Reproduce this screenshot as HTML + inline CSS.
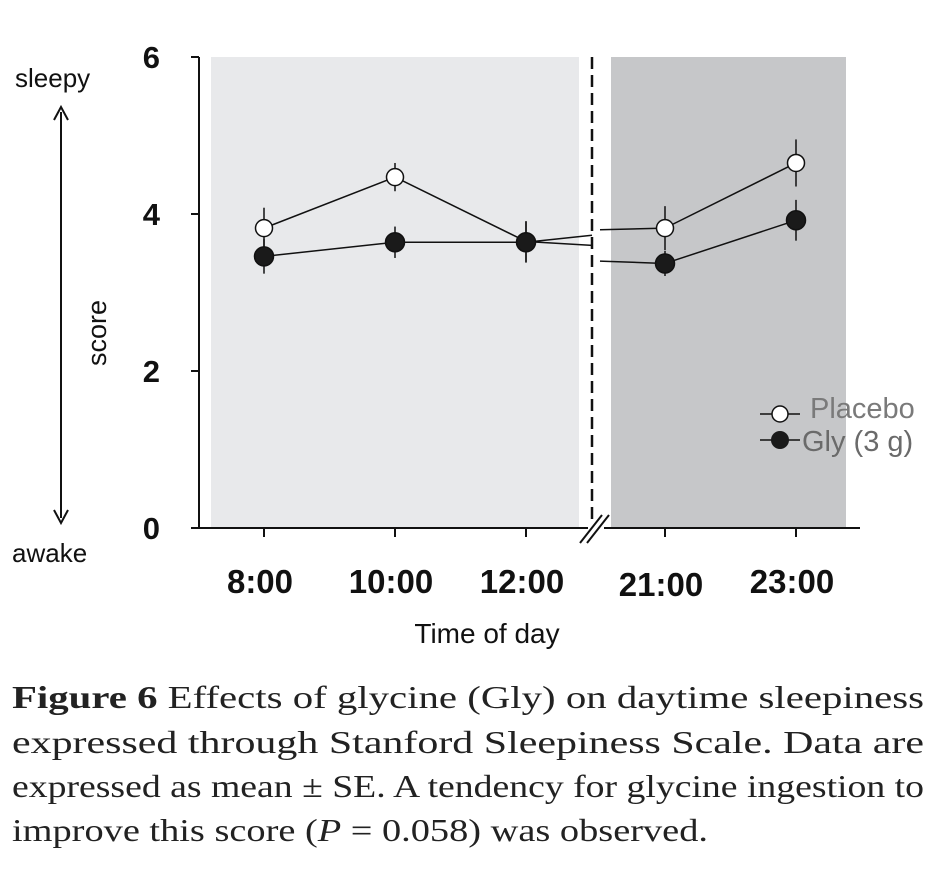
<!DOCTYPE html>
<html><head><meta charset="utf-8"><style>
html,body{margin:0;padding:0;background:#fff;}
svg{display:block;}
</style></head><body>
<svg id="chart" width="950" height="882" viewBox="0 0 950 882" xmlns="http://www.w3.org/2000/svg" font-family="Liberation Sans, Arial, sans-serif">
  <rect x="211" y="57" width="368" height="471" fill="#e8e9eb"/>
  <rect x="611" y="57" width="235" height="471" fill="#c6c7c9"/>
  <line x1="592" y1="57" x2="592" y2="528" stroke="#111" stroke-width="2.5" stroke-dasharray="12,6"/>
  <line x1="199" y1="57" x2="199" y2="529" stroke="#111" stroke-width="2"/>
  <line x1="198" y1="528" x2="860" y2="528" stroke="#111" stroke-width="2"/>
  <rect x="588" y="520" width="16" height="16" fill="#fff"/>
  <line x1="580" y1="543" x2="602" y2="515" stroke="#111" stroke-width="2"/>
  <line x1="587" y1="543" x2="609" y2="515" stroke="#111" stroke-width="2"/>
  <g id="yticks"></g>
  <g id="xticks"></g>
  <g id="series"></g>
  <text x="15" y="87" font-size="26" fill="#111">sleepy</text>
  <text x="12" y="562" font-size="26" fill="#111">awake</text>
  <line x1="61" y1="112" x2="61" y2="518" stroke="#111" stroke-width="2"/>
  <path d="M54,120 L61,107 L68,120" fill="none" stroke="#111" stroke-width="2"/>
  <path d="M54,510 L61,523 L68,510" fill="none" stroke="#111" stroke-width="2"/>
  <text transform="translate(106,333) rotate(-90)" text-anchor="middle" font-size="27" fill="#111">score</text>
  <text x="487" y="643" text-anchor="middle" font-size="28" fill="#111">Time of day</text>
  <g>
    <line x1="760" y1="414" x2="800" y2="414" stroke="#111" stroke-width="1.5"/>
    <circle cx="780" cy="414" r="8" fill="#fff" stroke="#111" stroke-width="1.5"/>
    <text x="810" y="418" font-size="29" fill="#7a7a7a">Placebo</text>
    <line x1="760" y1="440" x2="800" y2="440" stroke="#111" stroke-width="1.5"/>
    <circle cx="780" cy="440" r="9" fill="#1a1a1a"/>
    <text x="802" y="451" font-size="29" fill="#6a6a6a">Gly (3 g)</text>
  </g>
  <g font-family="Liberation Serif, serif" font-size="32" fill="#222">
    <text x="12" y="708" textLength="912" lengthAdjust="spacingAndGlyphs"><tspan font-weight="bold">Figure 6</tspan> Effects of glycine (Gly) on daytime sleepiness</text>
    <text x="12" y="753" textLength="912" lengthAdjust="spacingAndGlyphs">expressed through Stanford Sleepiness Scale. Data are</text>
    <text x="12" y="797" textLength="912" lengthAdjust="spacingAndGlyphs">expressed as mean ± SE. A tendency for glycine ingestion to</text>
    <text x="12" y="841" textLength="696" lengthAdjust="spacingAndGlyphs">improve this score (<tspan font-style="italic">P</tspan> = 0.058) was observed.</text>
  </g>
</svg>
<script>
const categories = ["8:00","10:00","12:00","21:00","23:00"];
const placebo = [3.82, 4.47, 3.65, 3.82, 4.65];
const placeboSE = [0.26, 0.18, 0.26, 0.28, 0.30];
const gly = [3.46, 3.64, 3.64, 3.37, 3.92];
const glySE = [0.22, 0.2, 0.26, 0.16, 0.26];
const yTicks = [0, 2, 4, 6];

const NS = "http://www.w3.org/2000/svg";
const xPos = [264, 395, 526, 665, 796];
function xs(i){ return xPos[i]; }
function ys(v){ return 528 - v * 78.5; }
function mk(tag, attrs, parent){
  const e = document.createElementNS(NS, tag);
  for (const k in attrs) e.setAttribute(k, attrs[k]);
  parent.appendChild(e);
  return e;
}
const yt = document.getElementById('yticks');
yTicks.forEach(t => {
  const l = mk('line', {x1:191, x2:199, y1:ys(t), y2:ys(t), stroke:'#111', 'stroke-width':2}, yt);
  
  
  const tx = mk('text', {x:160, y:ys(t)+11, 'text-anchor':'end', 'font-size':31, 'font-weight':'bold', fill:'#111'}, yt);
  tx.textContent = t;
  
  
});
const xt = document.getElementById('xticks');
categories.forEach((c, i) => {
  const l = mk('line', {x1:xs(i), x2:xs(i), y1:528, y2:537, stroke:'#111', 'stroke-width':2}, xt);
  
  
  const tx = mk('text', {x:xs(i)-4, y:(i===3?596:593), 'text-anchor':'middle', 'font-size':33, 'font-weight':'bold', fill:'#111'}, xt);
  tx.textContent = c;
  
  
});
const sg = document.getElementById('series');
function drawSeries(vals, se, filled, name, breakY1, breakY2){
  const g = mk('g', {}, sg);
  
  
  const seg = (a) => mk('polyline', {points:a.map(i=>xs(i)+','+ys(vals[i])).join(' '), fill:'none', stroke:'#111', 'stroke-width':1.5}, g);
  const p1 = seg([0,1,2]);
  
  
  const p2 = seg([3,4]);
  
  
  const c1 = mk('line', {x1:xs(2), y1:ys(vals[2]), x2:592, y2:ys(breakY1), stroke:'#111', 'stroke-width':1.5}, g);
  
  
  const c2 = mk('line', {x1:600, y1:ys(breakY2), x2:xs(3), y2:ys(vals[3]), stroke:'#111', 'stroke-width':1.5}, g);
  
  
  vals.forEach((v, i) => {
    const e = mk('line', {x1:xs(i), x2:xs(i), y1:ys(v+se[i]), y2:ys(v-se[i]), stroke:'#111', 'stroke-width':1.5}, g);
    
    
  });
  vals.forEach((v, i) => {
    const c = mk('circle', {cx:xs(i), cy:ys(v), r:filled?9.5:8.5, fill:filled?'#1a1a1a':'#fff', stroke:'#111', 'stroke-width':1.5}, g);
    
    
  });
}
drawSeries(placebo, placeboSE, false, 'placebo', 3.60, 3.80);
drawSeries(gly, glySE, true, 'gly', 3.73, 3.4);
</script>
</body></html>
